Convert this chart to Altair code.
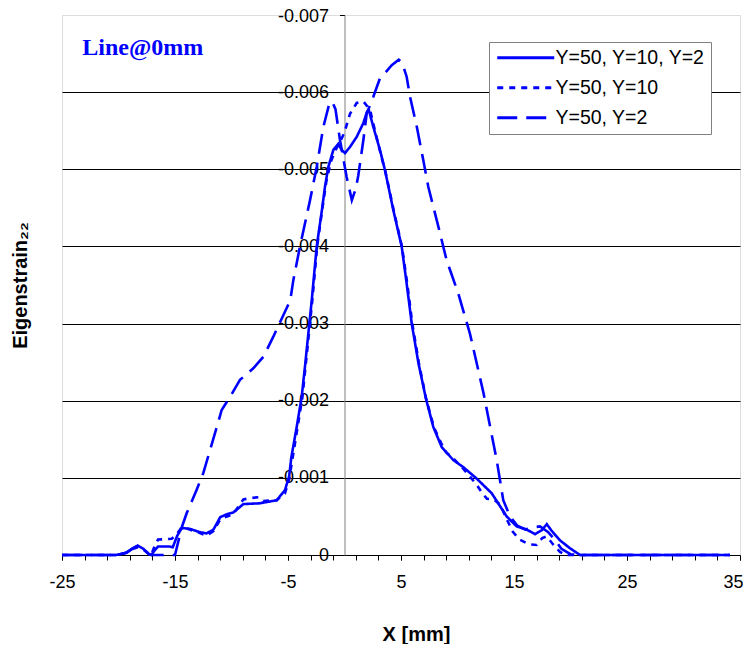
import altair as alt
import pandas as pd

series_names = ["Y=50, Y=10, Y=2", "Y=50, Y=10", "Y=50, Y=2"]

# Solid: Y=50, Y=10, Y=2
s_x = [-25, -20.2, -19.3, -18.7, -18.3, -17.8, -17.3, -17.1, -16.8, -16.5, -15.5, -15.2, -14.8, -14.4,
       -13.7, -12.9, -12.2, -11.6, -11.0, -10.4, -9.85, -8.95, -7.5, -6.0, -5.27, -4.9, -4.7, -4.23,
       -3.79, -3.5, -3.2, -2.9, -2.46, -2.0, -1.73, -1.43, -0.99, -0.55, -0.25, 0.04, 0.49, 1.08, 1.67,
       2.0, 2.15, 2.55, 3.14, 3.58, 4.32, 5.06, 5.5, 5.95, 6.54, 7.2, 7.86, 8.6, 9.63, 10.5, 11.7,
       13.03, 14.35, 15.24, 16.12, 16.86, 17.45, 17.9, 18.3, 19.07, 19.96, 20.84, 34.1]
s_v = [0, 0, 0.03, 0.09, 0.12, 0.08, 0.01, 0, 0.06, 0.11, 0.11, 0.10, 0.25, 0.35,
       0.34, 0.30, 0.28, 0.33, 0.49, 0.53, 0.55, 0.66, 0.67, 0.71, 0.84, 1.02, 1.27, 1.66,
       2.05, 2.44, 2.87, 3.3, 4.0, 4.47, 4.77, 5.03, 5.25, 5.33, 5.25, 5.21, 5.29, 5.42, 5.6,
       5.75, 5.77, 5.55, 5.25, 4.99, 4.47, 4.0, 3.52, 3.0, 2.49, 2.03, 1.66, 1.40, 1.23, 1.14, 0.99,
       0.80, 0.50, 0.37, 0.33, 0.27, 0.32, 0.40, 0.32, 0.19, 0.087, 0, 0]

# Short dash: Y=50, Y=10
d_x = [-25, -20.2, -19.3, -18.7, -18.3, -17.8, -17.3, -17.1, -16.8, -16.5, -15.3, -14.9, -14.4,
       -13.7, -12.9, -12.2, -11.6, -11.0, -10.4, -9.85, -8.95, -8.2, -7.6, -7.2, -6.0, -5.27, -4.9,
       -4.6, -4.15, -3.72, -3.45, -3.15, -2.85, -2.42, -1.95, -1.6, -1.2, -0.8, -0.4, 0.0, 0.49, 1.08,
       1.67, 2.26, 2.7, 3.2, 3.65, 4.35, 5.08, 5.55, 6.0, 6.58, 7.22, 7.9, 8.55, 9.0, 9.63, 10.5,
       11.2, 11.7, 12.2, 12.6, 13.2, 13.8, 14.4, 14.9, 15.5, 16.3, 17.0, 17.5, 17.9, 18.5, 19.07,
       19.6, 34.1]
d_v = [0, 0, 0.03, 0.08, 0.10, 0.07, 0.01, 0, 0.12, 0.2, 0.21, 0.26, 0.36,
       0.33, 0.29, 0.25, 0.31, 0.46, 0.50, 0.53, 0.72, 0.74, 0.75, 0.70, 0.71, 0.80, 0.98,
       1.25, 1.66, 2.05, 2.44, 2.87, 3.3, 4.0, 4.5, 4.85, 5.1, 5.25, 5.35, 5.48, 5.72, 5.86,
       5.88, 5.77, 5.5, 5.2, 4.95, 4.47, 4.0, 3.52, 3.0, 2.49, 2.03, 1.66, 1.45, 1.33, 1.25, 1.12,
       1.00, 0.91, 0.80, 0.73, 0.72, 0.65, 0.45, 0.30, 0.20, 0.14, 0.13, 0.22, 0.24, 0.13, 0.04,
       0, 0]

# Long dash: Y=50, Y=2
l_x = [-25, -20.2, -19.3, -18.7, -18.3, -17.8, -17.3, -17.1, -15.0, -14.4, -13.97, -13.1, -12.5,
       -11.9, -11.3, -10.87, -10.13, -9.25, -8.07, -7.18, -6.3, -5.6, -4.8, -4.53, -3.94, -3.05,
       -2.46, -1.87, -1.35, -1.1, -0.8, -0.4, 0.19, 0.65, 1.0, 1.22, 1.67, 1.96, 2.55, 3.14, 3.6,
       4.18, 4.8, 5.1, 5.5, 5.8, 6.4, 6.97, 7.42, 8.3, 9.04, 10.07, 11.1, 12.3, 13.47, 14.05, 14.65,
       15.3, 16.0, 16.7, 17.3, 18.0, 18.6, 19.2, 20.0, 20.8, 34.1]
l_v = [0, 0, 0.03, 0.09, 0.12, 0.08, 0.01, 0, 0, 0.36, 0.54, 0.84, 1.06,
       1.36, 1.66, 1.88, 2.05, 2.27, 2.42, 2.57, 2.83, 3.05, 3.3, 3.56, 4.0, 4.6,
       5.03, 5.55, 5.85, 5.88, 5.78, 5.38, 4.9, 4.6, 4.75, 4.92, 5.38, 5.72, 5.94, 6.18, 6.25,
       6.35, 6.42, 6.38, 6.2, 5.94, 5.55, 5.12, 4.77, 4.26, 3.82, 3.39, 2.87, 2.1, 1.23, 0.71, 0.50,
       0.38, 0.33, 0.36, 0.37, 0.30, 0.20, 0.08, 0.01, 0, 0]

x_major_ticks = list(range(-25, 36, 10))
x_minor_ticks = list(range(-25, 36, 2))
y_tick_values = [-k / 1000 for k in range(7, -1, -1)]

annotation_text = ["Line@0mm"]
annotation_x = [-23.2]
annotation_y = [-0.00648]

rows = []
for name, xs, vs in zip(series_names, [s_x, d_x, l_x], [s_v, d_v, l_v]):
    for i, (xv, vv) in enumerate(zip(xs, vs)):
        rows.append({"series": name, "x": xv, "e": -vv / 1000.0, "i": i})
df = pd.DataFrame(rows)

ann = pd.DataFrame({"x": annotation_x, "e": annotation_y, "t": annotation_text})
minor_df = pd.DataFrame({"x": x_minor_ticks})

FONT = "Liberation Sans"
BLUE = "#0000FF"

x_scale = alt.Scale(domain=[-25, 35], nice=False, zero=False)
y_scale = alt.Scale(domain=[-0.007, 0], reverse=True, nice=False, zero=False)

x_axis = alt.Axis(
    orient="bottom", values=x_major_ticks,
    labelExpr="'' + datum.value",
    grid=False, tickSize=5, tickColor="black", domainColor="black",
    labelFont=FONT, labelFontSize=18, labelColor="black", labelPadding=13,
    labelAlign={"condition": {"test": "datum.value >= 35", "value": "right"}, "value": "center"},
    labelOffset={"condition": {"test": "datum.value >= 35", "value": 3}, "value": 0},
    labelFlush=False, labelOverlap=False, labelBound=False,
    title="X [mm]", titleFont=FONT, titleFontSize=20, titleFontWeight="bold",
    titleColor="black", titleX=354, titleY=85, titleAlign="center", titleBaseline="alphabetic",
)

x_minor_axis = alt.Axis(
    orient="bottom", values=x_minor_ticks, labels=False, domain=False, grid=False,
    tickSize=5, tickColor="black", title=None,
)

y_axis = alt.Axis(
    values=y_tick_values,
    labelExpr="'' + round(datum.value * 1000) / 1000",
    offset=-282.5, grid=True, gridColor="black", gridWidth=1,
    gridOpacity={"condition": {"test": "datum.value == 0 || datum.value < -0.00695", "value": 0}, "value": 1},
    tickSize=5, tickColor="black", domainColor="#808080",
    labelFont=FONT, labelFontSize=18, labelColor="black", labelPadding=11,
    labelOffset={"condition": {"test": "datum.value < -0.00695", "value": 1.5}, "value": 0},
    labelFlush=False, labelOverlap=False, labelBound=False,
    title="Eigenstrain₂₂", titleFont=FONT, titleFontSize=20, titleFontWeight="bold",
    titleColor="black", titleX=-324, titleY=270, titleAngle=270,
    titleAlign="center", titleBaseline="middle",
)

lines = alt.Chart(df).mark_line(strokeWidth=2.6, color=BLUE).encode(
    x=alt.X("x:Q", scale=x_scale, axis=x_axis),
    y=alt.Y("e:Q", scale=y_scale, axis=y_axis),
    strokeDash=alt.StrokeDash(
        "series:N",
        scale=alt.Scale(domain=series_names, range=[[1, 0], [6, 6], [20, 9]]),
        legend=alt.Legend(
            title=None, orient="none", legendX=427, legendY=27, direction="vertical",
            symbolType="M-5,0H5", symbolSize=130, symbolStrokeWidth=3,
            symbolStrokeColor=BLUE, symbolOffset=21, labelOffset=20,
            labelFont=FONT, labelFontSize=19.5, labelColor="black", labelLimit=400,
            strokeColor="#808080", fillColor="white", padding=6, rowPadding=9,
        ),
    ),
    order="i:Q",
)

text = alt.Chart(ann).mark_text(
    font="Liberation Serif", fontSize=24, fontWeight="bold", color=BLUE,
    align="left", baseline="alphabetic",
).encode(x=alt.X("x:Q", scale=x_scale, axis=None), y=alt.Y("e:Q", scale=y_scale), text="t:N")

minor = alt.Chart(minor_df).mark_point(opacity=0).encode(
    x=alt.X("x:Q", scale=x_scale, axis=x_minor_axis),
)

chart = alt.layer(lines, text, minor).resolve_axis(x="independent").properties(
    width=678, height=540,
    autosize=alt.AutoSizeParams(type="none"),
    padding={"left": 54, "top": 7, "right": 3, "bottom": 89},
).configure_view(stroke="#808080", strokeWidth=1).configure(background="white")

chart.save("out.html", embed_options={"renderer": "svg", "actions": False})
